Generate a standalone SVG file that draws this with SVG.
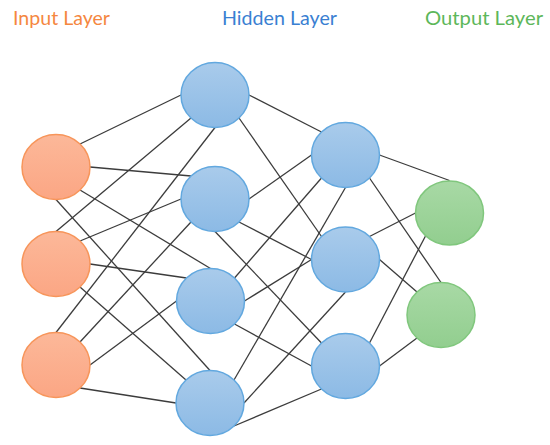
<svg xmlns="http://www.w3.org/2000/svg" width="550" height="445" viewBox="0 0 550 445">
<defs>
<linearGradient id="gOr" x1="0" y1="0" x2="0" y2="1"><stop offset="0" stop-color="#FCB899"/><stop offset="1" stop-color="#FBA684"/></linearGradient>
<linearGradient id="gBl" x1="0" y1="0" x2="0" y2="1"><stop offset="0" stop-color="#A9CBEB"/><stop offset="1" stop-color="#8CBAE5"/></linearGradient>
<linearGradient id="gGr" x1="0" y1="0" x2="0" y2="1"><stop offset="0" stop-color="#A8D9A5"/><stop offset="1" stop-color="#92CE8F"/></linearGradient>
</defs>
<style>
.lbl{font-family:Lato,"Liberation Sans",sans-serif;font-size:19px}
.in{fill:url(#gOr);stroke:#F7955A;stroke-width:1.5}
.hid{fill:url(#gBl);stroke:#62A8DF;stroke-width:1.5}
.out{fill:url(#gGr);stroke:#80C77D;stroke-width:1.5}
#connectors line{stroke:#3c3c3c;stroke-width:1.3}
</style>
<rect width="550" height="445" fill="#ffffff"/>
<text class="lbl" x="13" y="25" fill="#F5873F" textLength="97" lengthAdjust="spacingAndGlyphs">Input Layer</text>
<text class="lbl" x="222" y="25" fill="#3A7FD2" textLength="115" lengthAdjust="spacingAndGlyphs">Hidden Layer</text>
<text class="lbl" x="425" y="25" fill="#5DB75A" textLength="118" lengthAdjust="spacingAndGlyphs">Output Layer</text>
<g id="connectors">
<line x1="80" y1="144" x2="181" y2="95"/>
<line x1="90" y1="167" x2="191" y2="176"/>
<line x1="80" y1="190" x2="210.5" y2="268.5"/>
<line x1="56" y1="199.5" x2="210" y2="370.5"/>
<line x1="56" y1="231.5" x2="191" y2="118"/>
<line x1="80" y1="241" x2="181" y2="199"/>
<line x1="90" y1="264" x2="186.5" y2="278"/>
<line x1="80" y1="287" x2="186" y2="380"/>
<line x1="56" y1="332.5" x2="215" y2="127.5"/>
<line x1="80" y1="342" x2="191" y2="222"/>
<line x1="90" y1="365" x2="176.5" y2="301"/>
<line x1="80" y1="388" x2="176" y2="403"/>
<line x1="249" y1="95" x2="321.5" y2="132"/>
<line x1="239" y1="118" x2="321.5" y2="236.5"/>
<line x1="249" y1="199" x2="311.5" y2="155"/>
<line x1="239" y1="222" x2="311.5" y2="259.5"/>
<line x1="215" y1="231.5" x2="321.5" y2="343"/>
<line x1="234.5" y1="278" x2="321.5" y2="178"/>
<line x1="244.5" y1="301" x2="311.5" y2="259.5"/>
<line x1="234.5" y1="324" x2="311.5" y2="366"/>
<line x1="234" y1="380" x2="345.5" y2="187.5"/>
<line x1="244" y1="403" x2="345.5" y2="292"/>
<line x1="234" y1="426" x2="321.5" y2="389"/>
<line x1="379.5" y1="155" x2="449.5" y2="180.5"/>
<line x1="369.5" y1="178" x2="441" y2="282.5"/>
<line x1="369.5" y1="236.5" x2="415.5" y2="213"/>
<line x1="379.5" y1="259.5" x2="417" y2="292"/>
<line x1="369.5" y1="343" x2="425.5" y2="236"/>
<line x1="379.5" y1="366" x2="417" y2="338"/>
</g>
<g id="in1"><ellipse class="in" cx="56" cy="167" rx="34" ry="32.5"/></g>
<g id="in2"><ellipse class="in" cx="56" cy="264" rx="34" ry="32.5"/></g>
<g id="in3"><ellipse class="in" cx="56" cy="365" rx="34" ry="32.5"/></g>
<g id="h1a"><ellipse class="hid" cx="215" cy="95" rx="34" ry="32.5"/></g>
<g id="h1b"><ellipse class="hid" cx="215" cy="199" rx="34" ry="32.5"/></g>
<g id="h1c"><ellipse class="hid" cx="210.5" cy="301" rx="34" ry="32.5"/></g>
<g id="h1d"><ellipse class="hid" cx="210" cy="403" rx="34" ry="32.5"/></g>
<g id="h2a"><ellipse class="hid" cx="345.5" cy="155" rx="34" ry="32.5"/></g>
<g id="h2b"><ellipse class="hid" cx="345.5" cy="259.5" rx="34" ry="32.5"/></g>
<g id="h2c"><ellipse class="hid" cx="345.5" cy="366" rx="34" ry="32.5"/></g>
<g id="out1"><ellipse class="out" cx="449.5" cy="213" rx="34" ry="32"/></g>
<g id="out2"><ellipse class="out" cx="441" cy="315" rx="34" ry="32.5"/></g>
</svg>
